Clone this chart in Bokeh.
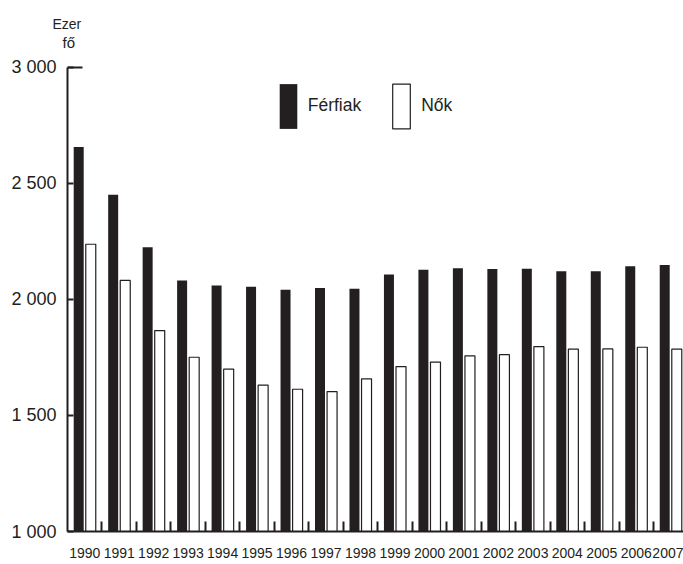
from bokeh.plotting import figure
from bokeh.models import Range1d, FixedTicker, Legend, LegendItem, Title, ColumnDataSource
from bokeh.transform import dodge
from bokeh.embed import file_html
from bokeh.resources import INLINE

# ---- data ----
years = ["1990", "1991", "1992", "1993", "1994", "1995", "1996", "1997", "1998",
         "1999", "2000", "2001", "2002", "2003", "2004", "2005", "2006", "2007"]
ferfiak = [2657, 2451, 2225, 2082, 2060, 2055, 2042, 2049, 2046,
           2108, 2128, 2135, 2131, 2132, 2122, 2122, 2143, 2149]
nok = [2238, 2082, 1866, 1751, 1700, 1631, 1613, 1603, 1658,
       1711, 1730, 1757, 1762, 1797, 1786, 1787, 1794, 1786]
y_ticks = [1000, 1500, 2000, 2500, 3000]
y_tick_labels = ["1 000", "1 500", "2 000", "2 500", "3 000"]
series_names = ["Férfiak", "Nők"]
unit_lines = ["Ezer", "fő"]

FONT = "Liberation Sans"
INK = "#231f20"

idx = list(range(len(years)))
src = ColumnDataSource(dict(idx=idx, year=years, ferfiak=ferfiak, nok=nok))

W, H = 683, 564
p = figure(width=W, height=H, output_backend="svg", toolbar_location=None, title=None,
           x_range=Range1d(-0.5, 17.37), y_range=Range1d(1000, 3073),
           min_border_left=67, min_border_right=0, min_border_top=50, min_border_bottom=33)
p.outline_line_color = None
p.grid.visible = False
p.background_fill_color = "white"
p.border_fill_color = "white"

bw = 0.29
r1 = p.vbar(x=dodge("idx", -0.175, range=p.x_range), top="ferfiak", bottom=1000, width=bw,
            source=src, fill_color=INK, line_color=None)
r2 = p.vbar(x=dodge("idx", 0.175, range=p.x_range), top="nok", bottom=1000, width=bw,
            source=src, fill_color="white", line_color=INK, line_width=1.2)

# x axis
xa = p.xaxis[0]
xa.ticker = FixedTicker(ticks=idx, minor_ticks=[i + 0.5 for i in idx])
xa.major_label_overrides = {i: y for i, y in zip(idx, years)}
xa.major_tick_in = 0
xa.major_tick_out = 0
xa.minor_tick_in = 10
xa.minor_tick_out = 0
xa.minor_tick_line_width = 2
xa.minor_tick_line_color = INK
xa.axis_line_width = 2
xa.axis_line_color = INK
xa.major_label_text_font = FONT
xa.major_label_text_font_size = "14px"
xa.major_label_text_color = INK
xa.major_label_standoff = 16

# y axis
ya = p.yaxis[0]
ya.ticker = FixedTicker(ticks=y_ticks)
ya.major_label_overrides = {t: s for t, s in zip(y_ticks, y_tick_labels)}
ya.bounds = (y_ticks[0], y_ticks[-1])
ya.major_tick_in = 6
ya.major_tick_out = 0
ya.major_tick_line_width = 2
ya.major_tick_line_color = INK
ya.minor_tick_line_color = None
ya.axis_line_width = 2
ya.axis_line_color = INK
ya.major_label_text_font = FONT
ya.major_label_text_font_size = "18px"
ya.major_label_text_color = INK
ya.major_label_standoff = 11

# cap at the top of the y axis
p.segment(x0=[-0.5], y0=[y_ticks[-1]], x1=[-0.5 + 15 / 34.47], y1=[y_ticks[-1]],
          line_width=2, line_color=INK)

# unit label (two title rows above the frame; the later one sits higher)
p.add_layout(Title(text=unit_lines[1], align="left", offset=-5, standoff=0,
                   text_font=FONT, text_font_size="15px", text_font_style="normal",
                   text_color=INK), "above")
p.add_layout(Title(text=unit_lines[0], align="left", offset=-15, standoff=0,
                   text_font=FONT, text_font_size="14px", text_font_style="normal",
                   text_color=INK), "above")

legend = Legend(items=[LegendItem(label=series_names[0], renderers=[r1]),
                       LegendItem(label=series_names[1], renderers=[r2])],
                orientation="horizontal", location=(209.75, 397.4),
                glyph_width=22, glyph_height=56, label_standoff=9, spacing=29,
                padding=0, margin=0, border_line_color=None, background_fill_alpha=0,
                label_text_font=FONT, label_text_font_size="17.5px", label_text_color=INK)
p.add_layout(legend)

open("out.html", "w").write(file_html(p, INLINE))
